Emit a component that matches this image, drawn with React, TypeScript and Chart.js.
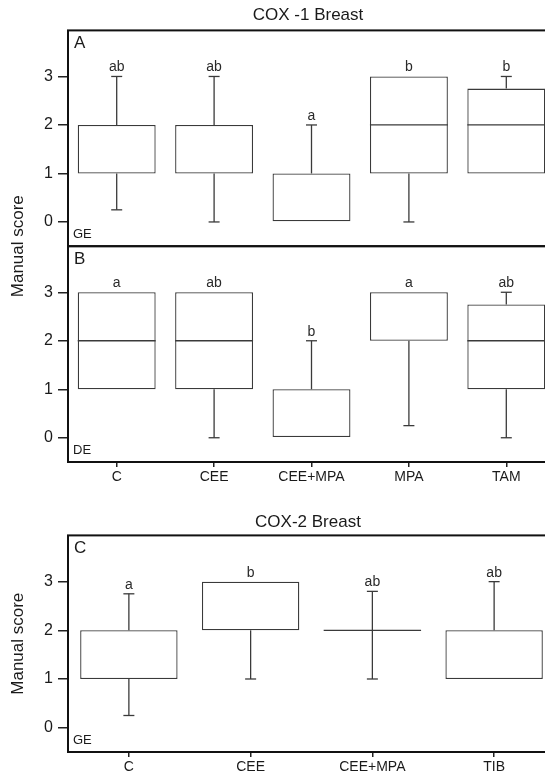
import React, { useEffect, useRef } from 'react';
import { Chart, registerables } from 'chart.js';

Chart.register(...registerables);

const FONT = '"Liberation Sans", Arial, Helvetica, sans-serif';

const cox1Title = 'COX -1 Breast';
const cox2Title = 'COX-2 Breast';
const yAxisTitle = 'Manual score';
const yTicks = [0, 1, 2, 3];
const yMin = -0.5;
const yMax = 3.95;

// COX-1 categories
const cox1Categories = ['C', 'CEE', 'CEE+MPA', 'MPA', 'TAM'];

// Panel A: COX-1 Breast, GE
const aMin = [0.25, 0, 0, 0, 1];
const aQ1 = [1, 1, 0, 1, 1];
const aMedian = [2, 2, 1, 2, 2];
const aQ3 = [2, 2, 1, 3, 2.75];
const aMax = [3, 3, 2, 3, 3];
const aLetters = ['ab', 'ab', 'a', 'b', 'b'];

// Panel B: COX-1 Breast, DE
const bMin = [1, 0, 0, 0.25, 0];
const bQ1 = [1, 1, 0, 2, 1];
const bMedian = [2, 2, 1, 3, 2];
const bQ3 = [3, 3, 1, 3, 2.75];
const bMax = [3, 3, 2, 3, 3];
const bLetters = ['a', 'ab', 'b', 'a', 'ab'];

// COX-2 categories
const cox2Categories = ['C', 'CEE', 'CEE+MPA', 'TIB'];

// Panel C: COX-2 Breast, GE
const cMin = [0.25, 1, 1, 1];
const cQ1 = [1, 2, 2, 1];
const cMedian = [2, 2, 2, 2];
const cQ3 = [2, 3, 2, 2];
const cMax = [2.75, 3, 2.8, 3];
const cLetters = ['a', 'b', 'ab', 'ab'];

type Panel = {
  axis: string;
  ds: number;
  label: string;
  tag: string;
  min: number[];
  q1: number[];
  med: number[];
  q3: number[];
  max: number[];
  letters: string[];
};

function makeBoxPlugin(panels: Panel[], yTitle: string) {
  return {
    id: 'boxDecor',
    afterDatasetsDraw(chart: any) {
      const { ctx, chartArea } = chart;
      ctx.save();
      const line = (x1: number, y1: number, x2: number, y2: number) => {
        ctx.beginPath();
        ctx.moveTo(x1, y1);
        ctx.lineTo(x2, y2);
        ctx.stroke();
      };
      for (const p of panels) {
        const ys = chart.scales[p.axis];
        const meta = chart.getDatasetMeta(p.ds);
        ctx.strokeStyle = '#3a3a3a';
        ctx.lineWidth = 1.3;
        p.q1.forEach((_, i) => {
          const el = meta.data[i];
          const { x, width } = el.getProps(['x', 'width'], true);
          const half = width / 2;
          const cap = 5.5;
          const flat = p.q1[i] === p.q3[i];
          if (flat || (p.med[i] > p.q1[i] && p.med[i] < p.q3[i])) {
            const yMed = ys.getPixelForValue(p.med[i]);
            line(x - half, yMed, x + half, yMed);
          }
          if (p.max[i] > p.q3[i]) {
            const a = ys.getPixelForValue(p.q3[i]);
            const b = ys.getPixelForValue(p.max[i]);
            line(x, a, x, b);
            line(x - cap, b, x + cap, b);
          }
          if (p.min[i] < p.q1[i]) {
            const a = ys.getPixelForValue(p.q1[i]);
            const b = ys.getPixelForValue(p.min[i]);
            line(x, a, x, b);
            line(x - cap, b, x + cap, b);
          }
          const top = ys.getPixelForValue(Math.max(p.max[i], p.q3[i]));
          ctx.fillStyle = '#2a2a2a';
          ctx.font = `14px ${FONT}`;
          ctx.textAlign = 'center';
          ctx.textBaseline = 'alphabetic';
          ctx.fillText(p.letters[i], x, top - 5);
        });
        ctx.strokeStyle = '#111';
        ctx.lineWidth = 2;
        ctx.strokeRect(chartArea.left, ys.top, chartArea.right - chartArea.left, ys.bottom - ys.top);
        ctx.fillStyle = '#1a1a1a';
        ctx.textAlign = 'left';
        ctx.textBaseline = 'middle';
        ctx.font = `17px ${FONT}`;
        ctx.fillText(p.label, chartArea.left + 6, ys.top + 13);
        ctx.font = `13px ${FONT}`;
        ctx.fillText(p.tag, chartArea.left + 5, ys.bottom - 12);
      }
      ctx.save();
      ctx.translate(18, (chartArea.top + chartArea.bottom) / 2);
      ctx.rotate(-Math.PI / 2);
      ctx.fillStyle = '#1a1a1a';
      ctx.font = `17px ${FONT}`;
      ctx.textAlign = 'center';
      ctx.textBaseline = 'middle';
      ctx.fillText(yTitle, 0, 0);
      ctx.restore();
      ctx.restore();
    },
  };
}

const boxStyle = {
  backgroundColor: '#ffffff',
  borderColor: '#3a3a3a',
  borderWidth: 1.3,
  borderSkipped: false,
  grouped: false,
  barPercentage: 0.8,
  categoryPercentage: 1.0,
};

const yScale = (stack?: string) => ({
  type: 'linear',
  position: 'left',
  min: yMin,
  max: yMax,
  stack,
  stackWeight: 1,
  afterBuildTicks: (s: any) => {
    s.ticks = yTicks.map((v) => ({ value: v }));
  },
  afterFit: (s: any) => {
    s.width = 68;
  },
  grid: { display: true, drawOnChartArea: false, drawTicks: true, tickLength: 10, color: '#222', lineWidth: 1.5 },
  border: { display: false },
  ticks: { padding: 5, font: { size: 16, family: FONT }, color: '#1a1a1a' },
});

// empty right-hand spacer axis (the plot frame runs past the picture's right edge)
const spacerScale = () => ({
  type: 'linear',
  position: 'right',
  min: 0,
  max: 1,
  display: true,
  grid: { display: false, drawTicks: false },
  border: { display: false },
  ticks: { display: false },
  afterFit: (s: any) => {
    s.width = 61;
  },
});

const xScale = (h: number) => ({
  type: 'category',
  offset: true,
  grid: { display: true, drawOnChartArea: false, drawTicks: true, tickLength: 5, offset: false, color: '#222', lineWidth: 1.5 },
  border: { display: false },
  ticks: { padding: 2, font: { size: 14, family: FONT }, color: '#1a1a1a', maxRotation: 0, autoSkip: false },
  afterFit: (s: any) => {
    s.height = h;
  },
});

const titleOpts = (text: string, top: number, bottom: number) => ({
  display: true,
  text,
  color: '#1a1a1a',
  font: { size: 17, family: FONT, weight: 'normal' },
  padding: { top, bottom },
  fullSize: true,
});

export default function App() {
  const r1 = useRef<HTMLCanvasElement>(null);
  const r2 = useRef<HTMLCanvasElement>(null);

  useEffect(() => {
    Chart.defaults.font.family = FONT;
    const panels1: Panel[] = [
      { axis: 'yA', ds: 0, label: 'A', tag: 'GE', min: aMin, q1: aQ1, med: aMedian, q3: aQ3, max: aMax, letters: aLetters },
      { axis: 'yB', ds: 1, label: 'B', tag: 'DE', min: bMin, q1: bQ1, med: bMedian, q3: bQ3, max: bMax, letters: bLetters },
    ];
    const panels2: Panel[] = [
      { axis: 'y', ds: 0, label: 'C', tag: 'GE', min: cMin, q1: cQ1, med: cMedian, q3: cQ3, max: cMax, letters: cLetters },
    ];

    const c1 = new Chart(r1.current as HTMLCanvasElement, {
      type: 'bar',
      data: {
        labels: cox1Categories,
        datasets: [
          { label: 'GE', data: aQ1.map((q, i) => [q, aQ3[i]]), yAxisID: 'yA', ...boxStyle } as any,
          { label: 'DE', data: bQ1.map((q, i) => [q, bQ3[i]]), yAxisID: 'yB', ...boxStyle } as any,
        ],
      },
      options: {
        animation: false,
        responsive: false,
        devicePixelRatio: 1,
        layout: { padding: { left: 0, right: 0, top: 0, bottom: 0 } },
        plugins: {
          legend: { display: false },
          tooltip: { enabled: false },
          title: titleOpts(cox1Title, 5, 5) as any,
        },
        scales: {
          x: xScale(38) as any,
          yB: yScale('cox1') as any,
          yA: yScale('cox1') as any,
          spacer: spacerScale() as any,
        },
      },
      plugins: [makeBoxPlugin(panels1, yAxisTitle)],
    });

    const c2 = new Chart(r2.current as HTMLCanvasElement, {
      type: 'bar',
      data: {
        labels: cox2Categories,
        datasets: [{ label: 'GE', data: cQ1.map((q, i) => [q, cQ3[i]]), yAxisID: 'y', ...boxStyle } as any],
      },
      options: {
        animation: false,
        responsive: false,
        devicePixelRatio: 1,
        layout: { padding: { left: 0, right: 0, top: 17, bottom: 0 } },
        plugins: {
          legend: { display: false },
          tooltip: { enabled: false },
          title: titleOpts(cox2Title, 5, 3) as any,
        },
        scales: {
          x: xScale(29) as any,
          y: yScale(undefined) as any,
          spacer: spacerScale() as any,
        },
      },
      plugins: [makeBoxPlugin(panels2, yAxisTitle)],
    });

    return () => {
      c1.destroy();
      c2.destroy();
    };
  }, []);

  return (
    <div
      style={{
        position: 'fixed',
        left: 0,
        top: 0,
        width: 545,
        height: 781,
        overflow: 'hidden',
        background: '#ffffff',
      }}
    >
      <canvas ref={r1} width={616} height={500} style={{ position: 'absolute', left: 0, top: 0 }} />
      <canvas ref={r2} width={616} height={291} style={{ position: 'absolute', left: 0, top: 490 }} />
    </div>
  );
}
